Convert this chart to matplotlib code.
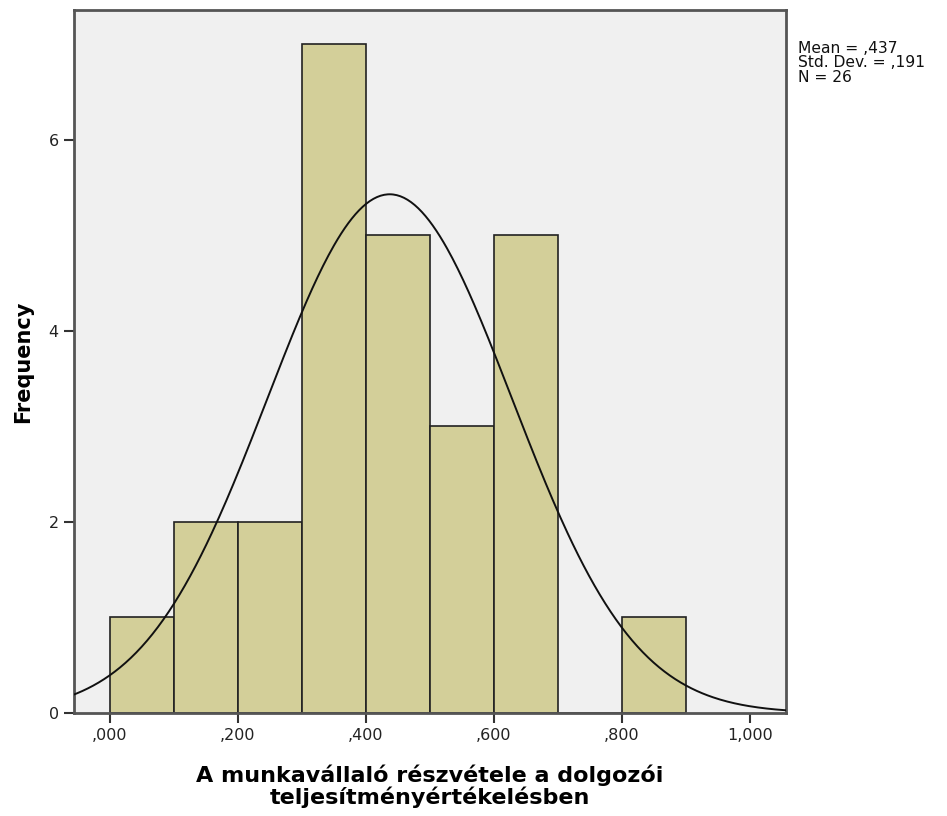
import numpy as np
import matplotlib
matplotlib.use("Agg")
import matplotlib.pyplot as plt

bin_edges = [0.0, 0.1, 0.2, 0.3, 0.4, 0.5, 0.6, 0.7, 0.8, 0.9]
counts = [1, 2, 2, 7, 5, 3, 5, 0, 1]
mean = 0.437
std = 0.191
n = 26
x_ticks = [0.0, 0.2, 0.4, 0.6, 0.8, 1.0]
x_tick_labels = [",000", ",200", ",400", ",600", ",800", "1,000"]
y_ticks = [0, 2, 4, 6]

plt.rcParams['font.family'] = ['DejaVu Sans']
fig = plt.figure(figsize=(9.47, 8.16), dpi=100)
ax = fig.add_axes([74/947, 1-713/816, (786-74)/947, (713-10)/816])
ax.set_facecolor('#f0f0f0')

lefts = bin_edges[:-1]
widths = np.diff(bin_edges)
ax.bar(lefts, counts, width=widths, align='edge', color='#d3cf99',
       edgecolor='#222222', linewidth=1.2, zorder=2)

xs = np.linspace(-0.06, 1.06, 400)
bw = bin_edges[1] - bin_edges[0]
ys = n * bw / (std * np.sqrt(2*np.pi)) * np.exp(-0.5*((xs-mean)/std)**2)
ax.plot(xs, ys, color='#111111', linewidth=1.4, zorder=3)

ax.set_xlim(-0.05625, 1.05625)
ax.set_ylim(0, 7.36)
ax.set_xticks(x_ticks)
ax.set_xticklabels(x_tick_labels)
ax.set_yticks(y_ticks)
ax.tick_params(direction='out', length=7, width=1.5, color='#333333',
               labelsize=11.5, labelcolor='#222222', pad=4)
for s in ax.spines.values():
    s.set_color('#555555')
    s.set_linewidth(2)

ax.set_ylabel('Frequency', fontsize=15, fontweight='bold', labelpad=11)
ax.set_xlabel('A munkavállaló részvétele a dolgozói\nteljesítményértékelésben',
              fontsize=16, fontweight='bold', linespacing=1.05, labelpad=15)

fig.text(798/947, 1-41/816, f"Mean = ,{int(round(mean*1000))}\nStd. Dev. = ,{int(round(std*1000))}\nN = {n}",
         fontsize=11.2, va='top', ha='left', linespacing=0.95, color='#111111')

fig.savefig('out.png', dpi=100)
